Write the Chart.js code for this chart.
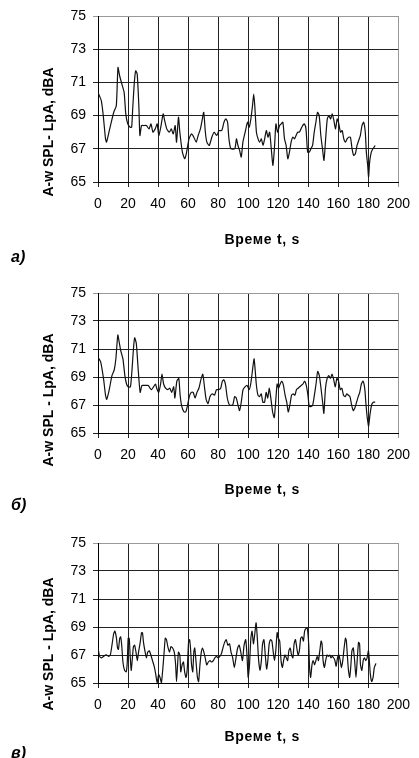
<!DOCTYPE html>
<html>
<head>
<meta charset="utf-8">
<script src="https://cdn.jsdelivr.net/npm/chart.js@4.4.1/dist/chart.umd.min.js"></script>
<style>
	body { margin: 0; background: #fff; width: 419px; height: 758px; position: relative; overflow: hidden; }
	.box { position: absolute; left: 0; width: 419px; }
</style>
</head>
<body>
<div class="box" style="top:0;height:270px"><canvas id="chartA" width="419" height="270"></canvas></div>
<div class="box" style="top:270px;height:250px"><canvas id="chartB" width="419" height="250"></canvas></div>
<div class="box" style="top:520px;height:238px"><canvas id="chartC" width="419" height="238"></canvas></div>
<script>
// Оси
const xTicks = { min: 0, max: 200, step: 20 };
const yTicks = { min: 65, max: 75, step: 2 };

// Подписи
const xTitle = 'Време t, s';
const yTitleA = 'A-w SPL- LpA, dBA';
const yTitleBC = 'A-w SPL - LpA, dBA';
const panelTags = ['а)', 'б)', 'в)'];

// [время, с ; уровень, dBA] — а)
const seriesA = [
	[0,70.4],[2.2,69.9],[3.5,69.0],[5,67.6],[5.7,67.4],[8.3,68.4],[10.5,69.2],[12.2,69.6],[13.3,71.9],[14.4,71.4],
	[15.9,70.9],[17.4,70.4],[18.5,69.1],[19.8,68.5],[21.4,68.3],[22.4,68.3],[23.1,69.4],[24.2,71.0],[25.1,71.7],[26.1,71.5],
	[27.2,69.6],[27.9,67.8],[29,68.4],[30.5,68.4],[32.2,68.4],[34,68.2],[35.3,68.5],[36.6,68.0],[38.1,68.2],[39.4,68.5],
	[40.5,67.8],[42,68.4],[43.4,69.1],[44.4,68.7],[45.8,68.2],[47.5,68.0],[48.8,68.2],[50.1,67.9],[51.4,68.4],[52.3,67.4],
	[53.6,68.9],[54.5,68.0],[56.2,66.8],[57.7,66.4],[58.8,66.7],[60.6,67.6],[62.3,67.9],[63.8,67.7],[65.4,67.4],[66.7,67.8],
	[68.2,68.2],[69.3,68.7],[70.4,69.2],[71.5,68.0],[72.5,67.4],[74.1,67.2],[75.8,67.7],[77.3,68.0],[79.1,67.8],[80.6,68.1],
	[82.4,68.1],[83.9,68.6],[85.2,68.8],[86.3,68.6],[87.2,67.6],[88.5,67.0],[91.1,67.0],[92.2,67.6],[93.2,67.2],[94.3,66.9],
	[95.4,66.5],[96.5,67.4],[98,68.0],[99.6,68.6],[100.7,68.3],[101.8,68.8],[102.9,69.6],[103.7,70.3],[104.4,69.6],[105.5,68.0],
	[106.6,67.6],[107.7,67.4],[108.8,67.6],[109.9,67.2],[111,67.6],[112.1,68.1],[113.2,67.7],[114.3,68.0],[115.4,67.0],[116.5,66.0],
	[117.6,67.2],[118.5,68.5],[119.6,68.0],[120.9,68.4],[122,68.5],[123.1,68.6],[124.2,67.6],[125.3,67.2],[126.4,66.4],[127.5,66.8],
	[128.6,67.4],[129.7,67.7],[130.8,67.6],[131.9,67.8],[133,68.0],[134.1,68.0],[135.2,68.2],[136.3,68.4],[137.4,68.5],[138.5,68.2],
	[139.6,66.8],[140.7,66.8],[141.8,67.0],[142.9,67.2],[144,68.0],[145.1,68.6],[146.2,69.2],[147.3,69.0],[148.4,67.8],[149.5,67.0],
	[150.5,66.3],[151.6,67.6],[152.7,68.8],[153.8,69.0],[154.9,68.8],[156,69.1],[157.1,68.7],[158.2,68.2],[159.3,68.8],[160.4,68.5],
	[161.5,68.0],[162.6,68.1],[163.7,67.6],[164.8,67.4],[165.9,67.6],[167,67.7],[168.1,67.7],[169.2,67.0],[170.3,66.6],[171.4,66.7],
	[172.5,67.2],[173.6,67.5],[174.7,67.8],[175.8,68.4],[176.9,68.6],[178,68.0],[178.7,66.8],[179.6,66.0],[180.2,65.3],[180.9,66.2],
	[182,66.8],[183.1,67.0],[184.6,67.2]
];

// б)
const seriesB = [
	[0,70.4],[1.7,70.1],[2.8,69.5],[3.9,68.7],[5,67.7],[5.8,67.4],[7.1,67.9],[8.2,68.5],[9.3,69.1],[10.8,69.5],
	[11.9,70.3],[13.2,72.0],[14.1,71.5],[15.1,70.9],[16.6,70.3],[17.9,69.1],[19,68.5],[20.1,68.3],[21.6,68.3],[22.7,69.6],
	[23.6,71.0],[24.4,71.8],[25.5,71.4],[26.4,70.1],[27.2,68.9],[28.1,67.9],[29.2,68.4],[30.3,68.4],[31.8,68.4],[33.5,68.4],
	[34.6,68.2],[35.7,68.1],[37,68.3],[38.3,68.5],[39.1,68.2],[40.4,67.9],[41.7,68.5],[42.6,69.2],[43.7,68.5],[45,68.2],
	[46.5,68.1],[47.8,68.2],[49.1,67.9],[50.4,68.3],[51.2,67.5],[52.5,68.7],[53.8,68.9],[54.7,67.7],[55.8,66.9],[57.3,66.5],
	[58.4,66.5],[59.5,66.9],[60.8,67.6],[62.1,67.9],[63.4,67.9],[64.6,67.5],[65.9,67.9],[67.2,68.2],[68.5,68.8],[69.8,69.2],
	[70.9,68.3],[72,67.4],[73.3,67.1],[74.6,67.6],[76.1,67.8],[77.6,67.7],[78.9,68.1],[80.4,68.1],[81.7,68.2],[82.8,68.7],
	[83.9,68.8],[85,68.4],[86.1,67.5],[87.6,67.0],[89.7,67.0],[91,67.6],[92.1,67.5],[93.2,67.0],[94.3,66.6],[95.4,67.2],
	[96.6,68.1],[97.9,68.3],[99.3,68.4],[100.7,68.1],[101.7,68.5],[102.8,69.4],[103.9,70.3],[104.6,69.6],[105.4,68.5],[106.5,67.7],
	[107.6,67.6],[108.7,67.8],[109.8,67.2],[110.9,67.2],[112,67.9],[113,67.5],[114.1,68.2],[115.2,67.4],[116.3,66.5],[117.4,66.1],
	[118.5,67.5],[119.3,68.5],[120.2,68.2],[121.3,68.5],[122.4,68.7],[123.5,68.4],[124.6,67.7],[125.7,67.2],[126.7,66.5],[127.8,67.0],
	[128.9,67.7],[130,67.8],[131.1,67.7],[132.2,68.1],[133.3,68.2],[134.3,68.3],[135.4,68.4],[136.5,68.5],[137.6,68.7],[138.7,68.4],
	[139.8,67.7],[140.7,66.9],[142,66.9],[143,67.0],[144.1,67.7],[145.2,68.5],[146.3,69.4],[147.4,69.1],[148.5,68.2],[149.6,67.2],
	[150.4,66.4],[151.5,68.2],[152.6,68.9],[153.7,69.1],[154.8,68.9],[155.9,69.2],[157,68.8],[158,68.3],[159.1,68.9],[160.2,68.7],
	[161.3,68.1],[162.4,68.2],[163.5,67.7],[164.6,67.6],[165.7,67.8],[166.7,67.7],[167.8,67.6],[168.9,67.0],[170,66.6],[171.1,66.8],
	[172.2,67.2],[173.3,67.6],[174.3,67.9],[175.4,68.5],[176.5,68.7],[177.6,68.2],[178.5,67.0],[179.3,66.1],[180.2,65.5],[181.1,66.3],
	[182.2,67.0],[183.3,67.2],[184.6,67.2]
];

// в)
const seriesC = [
	[0,67.5],[1.1,66.9],[2.2,66.8],[3.7,66.9],[5,67.0],[5.8,67.0],[7.1,66.9],[8.2,67.0],[9.3,67.7],[10.4,68.5],
	[11.2,68.7],[12.3,68.2],[13,67.5],[13.6,67.4],[14.5,68.2],[15.1,68.3],[15.8,67.7],[16.6,66.5],[17.7,65.9],[18.8,65.8],
	[19.5,66.5],[20.1,68.2],[20.8,68.2],[21.4,67.0],[22.1,65.9],[22.9,66.8],[23.6,67.6],[24.4,67.7],[25.3,67.2],[26.2,66.6],
	[27,67.2],[28.1,67.9],[29,68.6],[29.6,68.6],[30.3,67.9],[31.4,67.2],[32.2,66.8],[33.1,67.2],[34.2,67.3],[35.2,67.0],
	[36.3,66.6],[37.4,66.2],[38.5,65.6],[39.4,65.0],[40.4,65.6],[41.3,65.4],[42.2,65.0],[43,65.8],[43.9,67.0],[44.8,68.2],
	[45.6,68.1],[46.5,67.6],[47.6,67.2],[48.6,67.6],[49.7,67.5],[50.8,67.2],[51.7,66.3],[52.3,65.1],[53,66.3],[53.6,67.2],
	[54.5,67.0],[55.1,65.8],[56,66.3],[56.9,66.5],[57.7,65.8],[58.6,65.4],[59.5,66.1],[60.3,67.9],[61,68.1],[61.6,67.5],
	[62.3,66.3],[63.1,65.8],[63.8,67.2],[64.4,67.5],[65.3,66.5],[66.2,65.4],[67,65.1],[67.9,66.3],[68.8,67.2],[69.6,67.5],
	[70.5,67.2],[71.4,66.8],[72.4,66.3],[73.5,66.5],[74.6,66.6],[75.7,66.5],[76.8,66.6],[77.8,66.8],[78.9,66.9],[80,66.8],
	[81.1,66.9],[82.2,67.1],[83.2,67.5],[84.3,67.9],[85.4,68.1],[86.5,67.7],[87.6,67.8],[88.6,67.2],[89.7,66.8],[90.8,66.1],
	[91.9,66.8],[93,67.5],[94,67.7],[95.1,67.2],[96.2,66.6],[97.3,67.7],[98.4,68.1],[99.3,66.8],[100,65.4],[100.9,66.3],
	[101.8,68.2],[102.6,68.7],[103.5,67.8],[104.4,68.5],[105.3,69.3],[106.1,68.2],[107,66.6],[107.9,65.9],[108.8,66.6],[109.6,67.8],
	[110.5,68.1],[111.4,67.0],[112.3,66.0],[113.1,66.6],[114,67.8],[114.9,68.1],[115.8,68.0],[116.6,67.3],[117.5,66.6],[118.4,67.3],
	[119.3,68.6],[120.1,68.2],[121,68.0],[121.9,66.6],[122.8,66.1],[123.6,66.6],[124.5,67.0],[125.4,66.8],[126.3,66.6],[127.1,67.3],
	[128,67.5],[128.9,67.0],[129.8,66.8],[130.6,67.8],[131.5,68.1],[132.4,67.5],[133.3,67.0],[134.1,67.3],[135,68.2],[135.9,68.3],
	[136.8,68.0],[137.6,68.7],[138.5,68.9],[139.4,68.9],[140.3,67.8],[140.9,66.1],[141.6,65.4],[142.5,66.3],[143.3,66.6],[144.2,66.3],
	[145.1,66.6],[146,66.9],[146.8,66.6],[147.7,67.3],[148.6,68.0],[149.2,67.8],[149.9,66.6],[150.8,66.1],[151.6,66.6],[152.5,67.0],
	[153.4,66.9],[154.3,67.0],[155.1,66.8],[156,66.9],[156.9,66.8],[157.8,66.6],[158.6,66.2],[159.5,66.8],[160.4,67.0],[161.3,66.6],
	[162.1,66.1],[163,66.6],[163.9,67.5],[164.8,68.2],[165.4,68.0],[166.1,66.9],[166.8,65.9],[167.6,65.4],[168.3,66.1],[169.1,67.3],
	[170,67.5],[170.9,66.6],[171.8,65.4],[172.6,66.6],[173.5,67.9],[174.2,67.8],[174.8,66.3],[175.7,65.9],[176.6,66.6],[177.5,66.8],
	[178.3,66.6],[179.2,66.8],[180.1,67.3],[180.7,66.6],[181.4,65.6],[182.3,65.1],[183.2,65.4],[184,66.1],[185.1,66.4]
];

const FONT = '"Liberation Sans", Arial, sans-serif';

// Подписи осей и буквы панелей рисуем сами (смещены как в оригинале)
const panelText = {
	id: 'panelText',
	afterDraw(chart, args, opts) {
		const ctx = chart.ctx;
		const a = chart.chartArea;
		ctx.save();
		ctx.fillStyle = '#000';
		ctx.textAlign = 'center';
		ctx.textBaseline = 'middle';
		ctx.font = 'bold 14px ' + FONT;
		ctx.letterSpacing = '0.7px';
		ctx.fillText(opts.xTitle, (a.left + a.right) / 2 + 14, a.bottom + opts.xGap);
		ctx.letterSpacing = '0px';
		ctx.save();
		ctx.translate(49, (a.top + a.bottom) / 2 + opts.yShift);
		ctx.rotate(-Math.PI / 2);
		ctx.fillText(opts.yTitle, 0, 0);
		ctx.restore();
		ctx.textAlign = 'left';
		ctx.font = 'bold italic 16px ' + FONT;
		ctx.fillText(opts.tag, 11, a.bottom + opts.tagGap);
		ctx.restore();
	}
};

function makeChart(id, series, o) {
	const config = {
		type: 'line',
		data: {
			datasets: [{
				data: series.map(p => ({ x: p[0], y: p[1] })),
				borderColor: '#111',
				borderWidth: 1.2,
				pointRadius: 0,
				tension: 0.2,
				fill: false
			}]
		},
		options: {
			responsive: false,
			animation: false,
			events: [],
			layout: { padding: { top: o.padTop, right: 15, left: 0, bottom: 0 } },
			plugins: {
				legend: { display: false },
				tooltip: { enabled: false },
				panelText: { xTitle: xTitle, yTitle: o.yTitle, tag: o.tag, yShift: o.yShift, xGap: o.xGap, tagGap: o.tagGap }
			},
			scales: {
				x: {
					type: 'linear',
					min: xTicks.min,
					max: xTicks.max,
					ticks: { stepSize: xTicks.step, autoSkip: false, maxRotation: 0, color: '#000', padding: 9, font: { family: FONT, size: 14 } },
					grid: { color: c => (c.tick && c.tick.value === xTicks.max) ? '#999' : '#222', lineWidth: 1, tickLength: 5 },
					border: { color: '#000' },
					afterFit: s => { s.height = o.axisH; }
				},
				y: {
					min: yTicks.min,
					max: yTicks.max,
					ticks: { stepSize: yTicks.step, color: '#000', padding: 7, font: { family: FONT, size: 14 } },
					grid: { color: c => (c.tick && c.tick.value === yTicks.max) ? '#999' : '#222', lineWidth: 1, tickLength: 5 },
					border: { color: '#000' },
					afterFit: s => { s.width = 98; }
				}
			}
		},
		plugins: [panelText]
	};
	return new Chart(document.getElementById(id), config);
}

makeChart('chartA', seriesA, { padTop: 16, axisH: 88, yTitle: yTitleA, tag: panelTags[0], yShift: 33, xGap: 58, tagGap: 76 });
makeChart('chartB', seriesB, { padTop: 23, axisH: 87, yTitle: yTitleBC, tag: panelTags[1], yShift: 37, xGap: 57, tagGap: 73 });
makeChart('chartC', seriesC, { padTop: 23, axisH: 75, yTitle: yTitleBC, tag: panelTags[2], yShift: 31, xGap: 54, tagGap: 71 });
</script>
</body>
</html>
